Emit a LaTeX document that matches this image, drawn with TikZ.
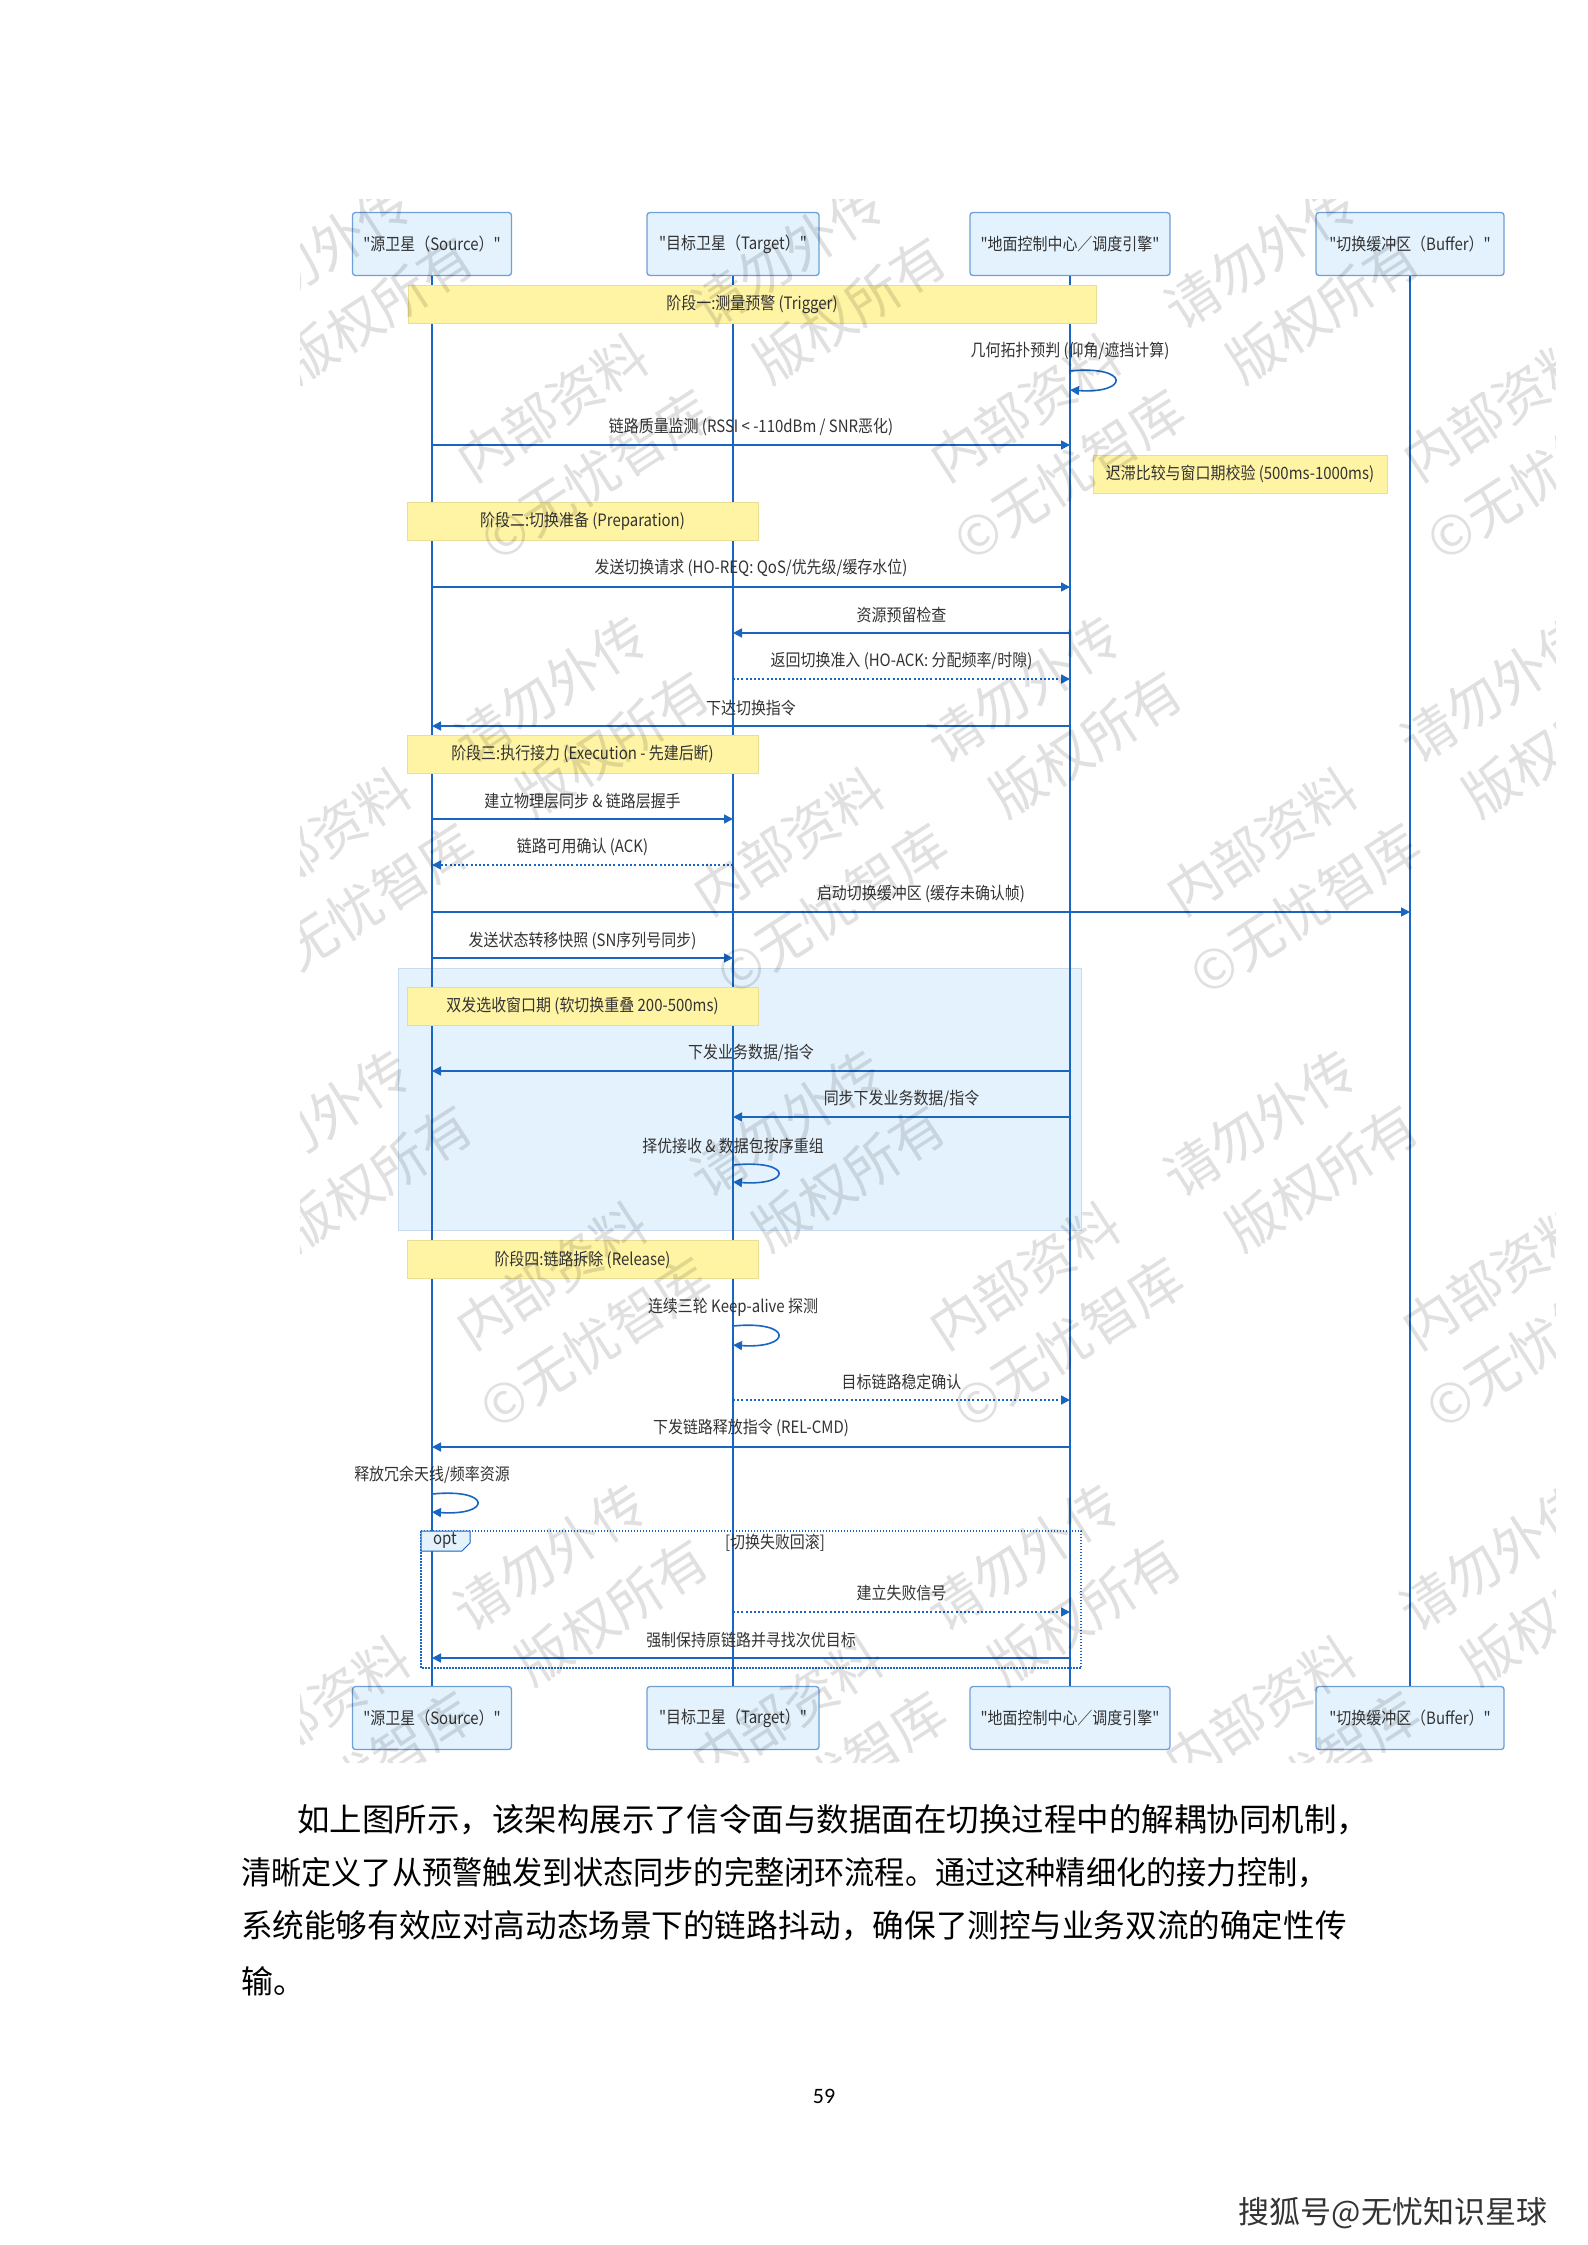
\documentclass[tikz,border=0pt]{standalone}
\usepackage{fontspec}
\newfontfamily\cjkfont[FakeStretch=0.88]{Noto Sans CJK SC}
\newfontfamily\bodyfont{Noto Sans CJK SC}
\newfontfamily\numfont{Carlito}
\usetikzlibrary{positioning, arrows.meta, calc}
\definecolor{lifeblue}{RGB}{25,101,192}
\definecolor{actorfill}{RGB}{227,242,253}
\definecolor{actordraw}{RGB}{110,160,215}
\definecolor{notefill}{RGB}{255,244,163}
\definecolor{notedraw}{RGB}{232,222,150}
\definecolor{winfill}{RGB}{228,242,253}
\definecolor{windraw}{RGB}{200,220,238}
\definecolor{txtgray}{RGB}{51,51,51}

\begin{document}
\begin{tikzpicture}[x=1pt, y=-1pt, >={Triangle[length=9pt,width=9pt]},
  actor/.style={draw=actordraw, line width=1.3pt, rounded corners=3pt, fill=actorfill, minimum height=63pt, inner sep=0pt, align=center, font=\cjkfont\fontsize{17}{20}\selectfont, text=txtgray},
  note/.style={draw=notedraw, line width=0.8pt, fill=notefill, minimum height=38pt, inner sep=0pt, align=center, font=\cjkfont\fontsize{17}{20}\selectfont, text=txtgray},
  life/.style={draw=lifeblue, line width=1.4pt},
  msg/.style={draw=lifeblue, line width=1.6pt, ->},
  reply/.style={msg, dash pattern=on 2pt off 2.2pt},
  lbl/.style={inner sep=0pt, font=\cjkfont\fontsize{17}{20}\selectfont, text=txtgray},
  win/.style={fill=winfill, draw=windraw, line width=0.8pt},
  optframe/.style={draw=lifeblue, line width=1.2pt, dash pattern=on 1.5pt off 1.5pt},
  opttab/.style={draw=lifeblue, line width=1pt, fill=actorfill},
  para/.style={anchor=west, inner sep=0pt, font=\bodyfont\fontsize{32}{38}\selectfont},
  wmark/.style={rotate=33, align=center, inner sep=0pt, text=black, text opacity=0.12, font=\bodyfont\fontsize{54}{80}\selectfont}]
  \fill[white] (0,0) rectangle (1587,2245);
  \useasboundingbox (0,0) rectangle (1587,2245);

  \path[win] (398,968) rectangle (1081,1230);
  \draw[optframe] (421,1531) rectangle (1081,1668);

  \node[actor, minimum width=159pt] (src) at (432,244) {"源卫星（Source）"};
  \node[actor, minimum width=172pt] (tgt) at (733,244) {"目标卫星（Target）"};
  \node[actor, minimum width=200pt] (gnd) at (1070,244) {"地面控制中心／调度引擎"};
  \node[actor, minimum width=188pt] (buf) at (1410,244) {"切换缓冲区（Buffer）"};
  \node[actor, minimum width=159pt] (srcB) at (432,1718) {"源卫星（Source）"};
  \node[actor, minimum width=172pt] (tgtB) at (733,1718) {"目标卫星（Target）"};
  \node[actor, minimum width=200pt] (gndB) at (1070,1718) {"地面控制中心／调度引擎"};
  \node[actor, minimum width=188pt] (bufB) at (1410,1718) {"切换缓冲区（Buffer）"};

  \draw[life] (src) -- (srcB);
  \draw[life] (tgt) -- (tgtB);
  \draw[life] (gnd) -- (gndB);
  \draw[life] (buf) -- (bufB);

  \node[note, minimum width=688pt] (ph1) at (752,304.5) {阶段一:测量预警 (Trigger)};
  \node[note, minimum width=294pt] (hyst) at (1240,474) {迟滞比较与窗口期校验 (500ms-1000ms)};
  \node[note, minimum width=351pt] (ph2) at (582.5,521.5) {阶段二:切换准备 (Preparation)};
  \node[note, minimum width=351pt] (ph3) at (582.5,754) {阶段三:执行接力 (Execution - 先建后断)};
  \node[note, minimum width=351pt] (dual) at (582.5,1006) {双发选收窗口期 (软切换重叠 200-500ms)};
  \node[note, minimum width=351pt] (ph4) at (582.5,1259.5) {阶段四:链路拆除 (Release)};

  \node[lbl] (geo) at (1070,351) {几何拓扑预判 (仰角/遮挡计算)};
  \draw[msg] (gnd |- 0,371) .. controls +(60,-6) and +(60,4) .. (gnd |- 0,390);
  \draw[msg] (src |- 0,445) -- node[lbl, yshift=18pt] {链路质量监测 (RSSI < -110dBm / SNR恶化)} (gnd |- 0,445);
  \draw[msg] (src |- 0,587) -- node[lbl, yshift=19pt] {发送切换请求 (HO-REQ: QoS/优先级/缓存水位)} (gnd |- 0,587);
  \draw[msg] (gnd |- 0,633) -- node[lbl, yshift=18pt] {资源预留检查} (tgt |- 0,633);
  \draw[reply] (tgt |- 0,679) -- node[lbl, yshift=18pt] {返回切换准入 (HO-ACK: 分配频率/时隙)} (gnd |- 0,679);
  \draw[msg] (gnd |- 0,726) -- node[lbl, yshift=18pt] {下达切换指令} (src |- 0,726);
  \draw[msg] (src |- 0,819) -- node[lbl, yshift=18pt] {建立物理层同步 \& 链路层握手} (tgt |- 0,819);
  \draw[reply] (tgt |- 0,865) -- node[lbl, yshift=18pt] {链路可用确认 (ACK)} (src |- 0,865);
  \draw[msg] (src |- 0,912) -- node[lbl, yshift=18pt] {启动切换缓冲区 (缓存未确认帧)} (buf |- 0,912);
  \draw[msg] (src |- 0,958) -- node[lbl, yshift=17pt] {发送状态转移快照 (SN序列号同步)} (tgt |- 0,958);
  \draw[msg] (gnd |- 0,1071) -- node[lbl, yshift=18pt] {下发业务数据/指令} (src |- 0,1071);
  \draw[msg] (gnd |- 0,1117) -- node[lbl, yshift=18pt] {同步下发业务数据/指令} (tgt |- 0,1117);
  \node[lbl] (pick) at (733,1146) {择优接收 \& 数据包按序重组};
  \draw[msg] (tgt |- 0,1165) .. controls +(60,-6) and +(60,4) .. (tgt |- 0,1182);
  \node[lbl] (keep) at (733,1307) {连续三轮 Keep-alive 探测};
  \draw[msg] (tgt |- 0,1326) .. controls +(60,-6) and +(60,4) .. (tgt |- 0,1345);
  \draw[reply] (tgt |- 0,1400) -- node[lbl, yshift=18pt] {目标链路稳定确认} (gnd |- 0,1400);
  \draw[msg] (gnd |- 0,1447) -- node[lbl, yshift=19pt] {下发链路释放指令 (REL-CMD)} (src |- 0,1447);
  \node[lbl] (freeres) at (432,1475) {释放冗余天线/频率资源};
  \draw[msg] (src |- 0,1494) .. controls +(60,-6) and +(60,4) .. (src |- 0,1512);

  \draw[opttab] (421,1531) -- (470,1531) -- (470,1543) -- (462,1551) -- (421,1551) -- cycle;
  \node[lbl] (optlbl) at (445,1541) {opt};
  \node[lbl] (cond) at (775,1543) {[切换失败回滚]};
  \draw[reply] (tgt |- 0,1612) -- node[lbl, yshift=19pt] {建立失败信号} (gnd |- 0,1612);
  \draw[msg] (gnd |- 0,1658) -- node[lbl, yshift=18pt] {强制保持原链路并寻找次优目标} (src |- 0,1658);

  \begin{scope}
    \clip (300,200) rectangle (1555,1762);
    \foreach \r/\kmin/\kmax in {0/-1/2, 1/-2/1, 2/-2/1, 3/-3/0}{
      \foreach \k in {\kmin,...,\kmax}{
        \pgfmathsetmacro\wx{692+473*\k+236*\r}
        \pgfmathsetmacro\wy{365+434*\r}
        \node[wmark] (wm\r\k) at (\wx,\wy) {内部资料\hspace{1.2em}请勿外传\\©无忧智库\hspace{1.2em}版权所有};
      }
    }
  \end{scope}

  \node[para] (p1) at (297,1820) {\scalebox{1.015}[1]{如上图所示，该架构展示了信令面与数据面在切换过程中的解耦协同机制，}};
  \node[para] (p2) at (241,1873) {\scalebox{0.943}[1]{清晰定义了从预警触发到状态同步的完整闭环流程。通过这种精细化的接力控制，}};
  \node[para] (p3) at (241,1926) {\scalebox{0.987}[1]{系统能够有效应对高动态场景下的链路抖动，确保了测控与业务双流的确定性传}};
  \node[para] (p4) at (241,1981) {输。};
  \node[font=\numfont\fontsize{22}{24}\selectfont, inner sep=0pt] (pgno) at (824,2096) {59};
  \node[font=\bodyfont\fontsize{31}{34}\selectfont, text=black!80, inner sep=0pt] (sohu) at (1393,2213) {搜狐号@无忧知识星球};
\end{tikzpicture}
\end{document}
